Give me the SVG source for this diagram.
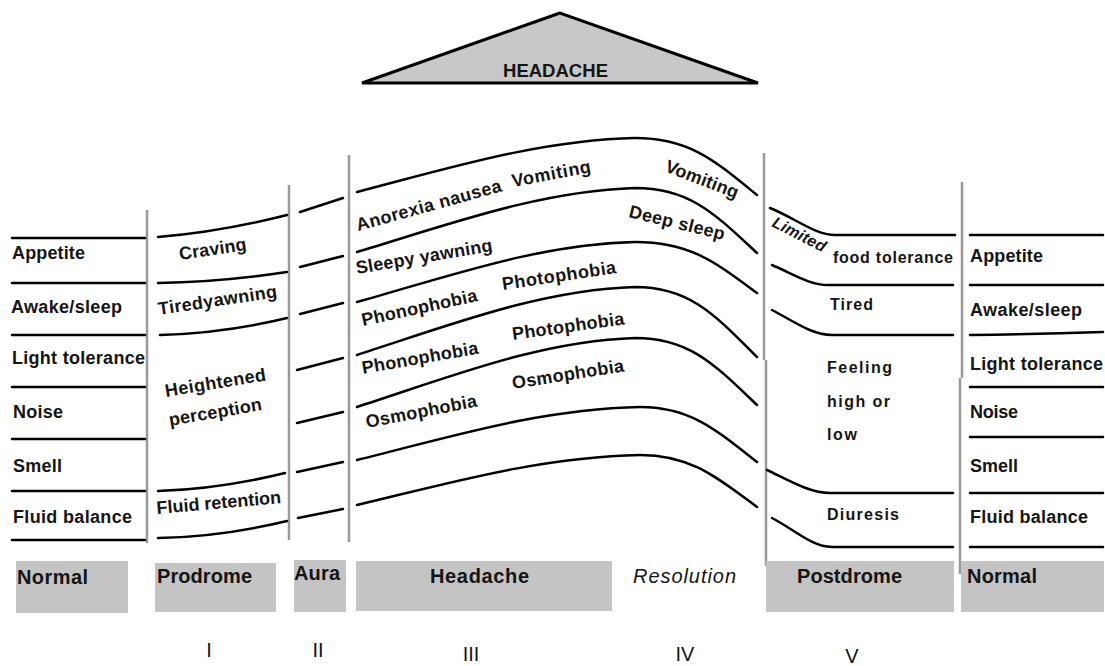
<svg xmlns="http://www.w3.org/2000/svg" width="1105" height="666" viewBox="0 0 1105 666">
<style>
.t{font-family:"Liberation Sans",Arial,sans-serif;font-weight:bold;font-size:18px;fill:#151515}
.m{font-family:"Liberation Sans",Arial,sans-serif;font-weight:bold;font-size:16px;fill:#151515}
.b{font-family:"Liberation Sans",Arial,sans-serif;font-weight:bold;font-size:20px;fill:#151515}
.r{font-family:"Liberation Sans",Arial,sans-serif;font-size:20px;fill:#151515}
.ln{fill:none;stroke:#000;stroke-width:2.5;stroke-linecap:round}
.gv{fill:none;stroke:#9a9a9a;stroke-width:2.5}
.box{fill:#c4c4c4}
</style>
<rect width="1105" height="666" fill="#fff"/>

<g id="headache-triangle">
<polygon points="560,13 362,83 758,83" fill="#c8c8c8" stroke="#000" stroke-width="3" stroke-linejoin="miter"/>
<text class="t" x="503" y="77" font-size="19" textLength="105" lengthAdjust="spacingAndGlyphs">HEADACHE</text>
</g>

<g id="dividers">
<line class="gv" x1="147" y1="210" x2="147" y2="543"/>
<line class="gv" x1="289" y1="185" x2="289" y2="540"/>
<line class="gv" x1="349" y1="155" x2="349" y2="542"/>
<line class="gv" x1="764" y1="153" x2="764" y2="360"/>
<line class="gv" x1="766" y1="360" x2="766" y2="566"/>
<line class="gv" x1="962" y1="182" x2="962" y2="378"/>
<line class="gv" x1="960" y1="378" x2="960" y2="574"/>
</g>

<g id="normal-left">
<path class="ln" d="M12,238H145M12,283H145M12,335H145M12,387H145M12,439H145M12,491H145M12,540H145"/>
<text class="t" x="12" y="259" textLength="73">Appetite</text>
<text class="t" x="11" y="313" textLength="111">Awake/sleep</text>
<text class="t" x="12" y="364" textLength="133">Light tolerance</text>
<text class="t" x="13" y="418" textLength="50">Noise</text>
<text class="t" x="13" y="472" textLength="49">Smell</text>
<text class="t" x="13" y="523" textLength="119">Fluid balance</text>
</g>

<g id="prodrome">
<path class="ln" d="M158,237Q220,232 287,215M158,283Q220,282 287,272M160,335Q225,333 287,318M158,491Q220,489 285,473M158,538Q220,537 287,521"/>
<text class="t" transform="translate(180,260) rotate(-8.5)" textLength="68">Craving</text>
<text class="t" transform="translate(159,315) rotate(-8.6)" textLength="120">Tiredyawning</text>
<text class="t" transform="translate(166,397) rotate(-9.4)" textLength="102">Heightened</text>
<text class="t" transform="translate(170,426) rotate(-9.8)" textLength="94">perception</text>
<text class="t" transform="translate(157,514) rotate(-5)" textLength="125">Fluid retention</text>
</g>

<g id="aura">
<path class="ln" d="M300,212L343,198M300,267L343,256M300,314L343,303M297,370L343,358M297,423L343,412M297,472L343,462M298,518L343,509"/>
</g>

<g id="headache-phase">
<path class="ln" d="M357,192C450,168 540,140 635,138C690,138 715,161 757,195"/>
<path class="ln" d="M357,252C450,224 540,191 635,188C690,188 715,214 757,253"/>
<path class="ln" d="M357,302C450,276 540,244 635,242C690,242 715,262 757,293"/>
<path class="ln" d="M357,355C450,325 540,290 635,287C690,287 715,315 757,357"/>
<path class="ln" d="M357,407C450,377 540,341 635,338C690,338 715,365 757,405"/>
<path class="ln" d="M357,460C450,437 540,409 640,407C690,407 715,429 757,462"/>
<path class="ln" d="M357,505C450,483 540,457 640,455C690,455 715,476 757,507"/>
<text class="t" transform="translate(358,231) rotate(-15.4)" textLength="150">Anorexia nausea</text>
<text class="t" transform="translate(513,187) rotate(-10.7)" textLength="80">Vomiting</text>
<text class="t" transform="translate(664,171) rotate(21)" textLength="77">Vomiting</text>
<text class="t" transform="translate(628,217) rotate(13.6)" textLength="98">Deep sleep</text>
<text class="t" transform="translate(357,274) rotate(-9.6)" textLength="138">Sleepy yawning</text>
<text class="t" transform="translate(363,326) rotate(-12.3)" textLength="118">Phonophobia</text>
<text class="t" transform="translate(503,290) rotate(-8.5)" textLength="115">Photophobia</text>
<text class="t" transform="translate(363,374) rotate(-10)" textLength="118">Phonophobia</text>
<text class="t" transform="translate(513,340) rotate(-8)" textLength="113">Photophobia</text>
<text class="t" transform="translate(367,428) rotate(-11)" textLength="113">Osmophobia</text>
<text class="t" transform="translate(513,389) rotate(-9)" textLength="113">Osmophobia</text>
</g>

<g id="postdrome">
<path class="ln" d="M770,208C795,218 815,235 835,235L955,235"/>
<path class="ln" d="M772,265C795,275 810,285 828,285L953,285"/>
<path class="ln" d="M772,310C795,322 812,335 832,335L953,335"/>
<path class="ln" d="M767,470C790,481 810,493 830,493L953,493"/>
<path class="ln" d="M772,518C795,530 812,547 832,547L953,547"/>
<text class="m" font-weight="normal" font-style="italic" transform="translate(771,226) rotate(27)" textLength="58">Limited</text>
<text class="m" x="833" y="263" textLength="120">food  tolerance</text>
<text class="m" x="830" y="310" textLength="43">Tired</text>
<text class="m" x="827" y="373" textLength="65">Feeling</text>
<text class="m" x="827" y="407" textLength="63">high or</text>
<text class="m" x="827" y="440" textLength="30">low</text>
<text class="m" x="827" y="520" textLength="72">Diuresis</text>
</g>

<g id="normal-right">
<path class="ln" d="M970,235H1103M970,285H1103M970,335Q1040,334 1103,332M970,387H1103M970,437H1103M970,493H1103M970,547H1103"/>
<text class="t" x="970" y="262" textLength="73">Appetite</text>
<text class="t" x="970" y="316" textLength="112">Awake/sleep</text>
<text class="t" x="970" y="370" textLength="133">Light tolerance</text>
<text class="t" x="970" y="418" textLength="48">Noise</text>
<text class="t" x="970" y="472" textLength="48">Smell</text>
<text class="t" x="970" y="523" textLength="118">Fluid balance</text>
</g>

<g id="phase-boxes">
<rect class="box" x="16" y="561" width="112" height="52"/>
<text class="b" x="17" y="584" textLength="71">Normal</text>
<rect class="box" x="155" y="563" width="121" height="49"/>
<text class="b" x="157" y="583" textLength="95">Prodrome</text>
<rect class="box" x="294" y="560" width="52" height="52"/>
<text class="b" x="294" y="580" textLength="46">Aura</text>
<rect class="box" x="356" y="561" width="256" height="50"/>
<text class="b" x="430" y="583" textLength="99">Headache</text>
<text class="r" x="633" y="583" font-style="italic" textLength="103">Resolution</text>
<rect class="box" x="766" y="561" width="188" height="51"/>
<text class="b" x="797" y="583" textLength="105">Postdrome</text>
<rect class="box" x="961" y="561" width="143" height="51"/>
<text class="b" x="967" y="583" textLength="70">Normal</text>
</g>

<g id="numerals">
<text class="r" x="209" y="657" text-anchor="middle">I</text>
<text class="r" x="318" y="657" text-anchor="middle">II</text>
<text class="r" x="471" y="661" text-anchor="middle">III</text>
<text class="r" x="685" y="661" text-anchor="middle">IV</text>
<text class="r" x="852" y="663" text-anchor="middle">V</text>
</g>
</svg>
